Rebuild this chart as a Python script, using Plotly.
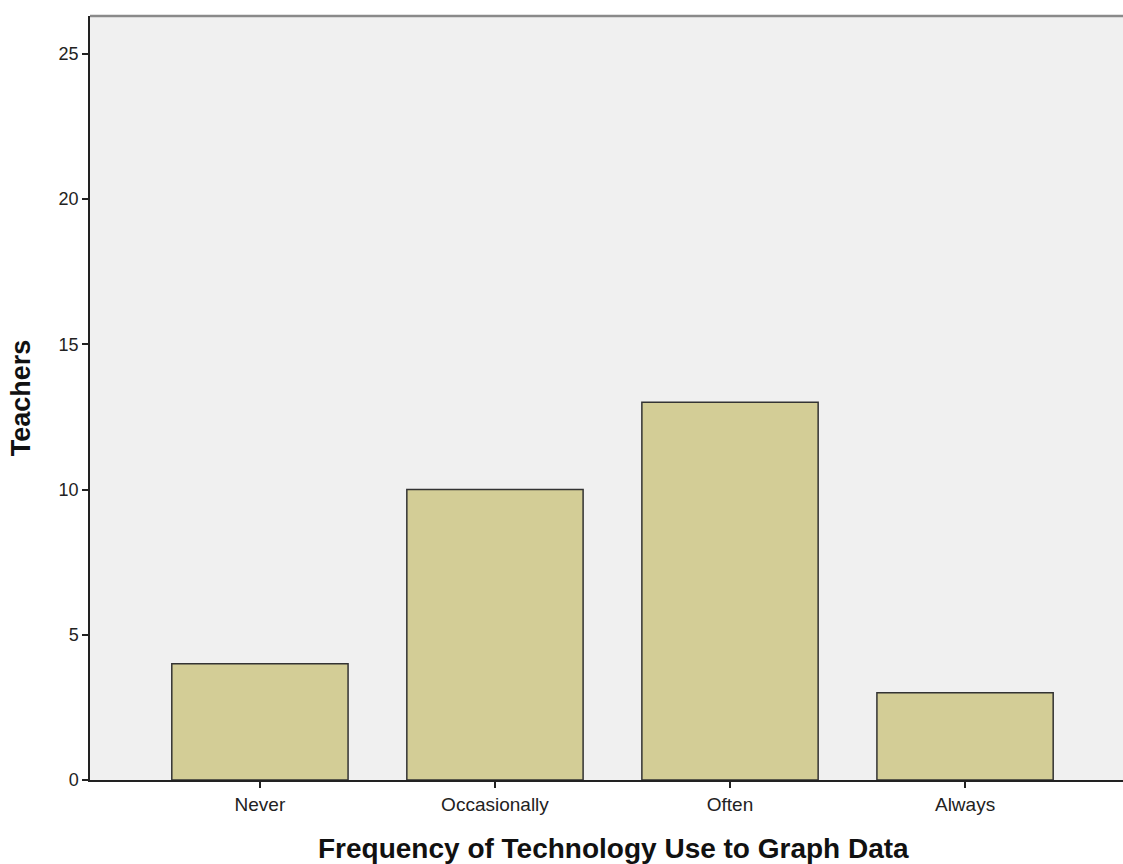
import plotly.graph_objects as go

categories = ["Never", "Occasionally", "Often", "Always"]
teachers = [4, 10, 13, 3]
y_ticks = [0, 5, 10, 15, 20, 25]

fig = go.Figure()
fig.add_trace(go.Bar(
    x=list(range(len(categories))), y=teachers,
    width=0.75,
    marker=dict(color="#D3CD96", line=dict(color="#333333", width=1.5)),
    hoverinfo="skip",
))

fig.add_shape(type="line", xref="paper", yref="paper", x0=0, x1=1, y0=1, y1=1,
              line=dict(color="#8a8a8a", width=2.5))

fig.add_annotation(
    text="<b>Frequency of Technology Use to Graph Data</b>",
    xref="paper", yref="paper", x=0.507, y=-0.0903,
    xanchor="center", yanchor="middle", showarrow=False,
    font=dict(size=28, color="#111111"),
)

fig.update_layout(
    width=1123, height=864,
    margin=dict(l=90, r=0, t=16, b=84),
    paper_bgcolor="white", plot_bgcolor="#F0F0F0",
    font=dict(family="Arial, Liberation Sans, sans-serif", size=19, color="#222222"),
    showlegend=False,
    xaxis=dict(
        tickmode="array", tickvals=list(range(len(categories))), ticktext=categories,
        range=[-0.723, 3.672], showgrid=False, zeroline=False,
        showline=True, linecolor="#222222", linewidth=1.5,
        ticks="outside", ticklen=6, tickcolor="#222222", tickwidth=1.5,
        tickfont=dict(size=19),
    ),
    yaxis=dict(
        tickmode="array", tickvals=y_ticks,
        range=[0, 26.3], showgrid=False, zeroline=False,
        showline=True, linecolor="#222222", linewidth=1.5,
        ticks="outside", ticklen=6, tickcolor="#222222", tickwidth=1.5,
        tickfont=dict(size=18),
        title=dict(text="<b>Teachers</b>", font=dict(size=27, color="#111111"), standoff=20),
    ),
)

fig.write_html(
    "out.html",
    config={"displayModeBar": False},
    post_script="document.body.style.margin='0';document.body.style.overflow='hidden';",
)
